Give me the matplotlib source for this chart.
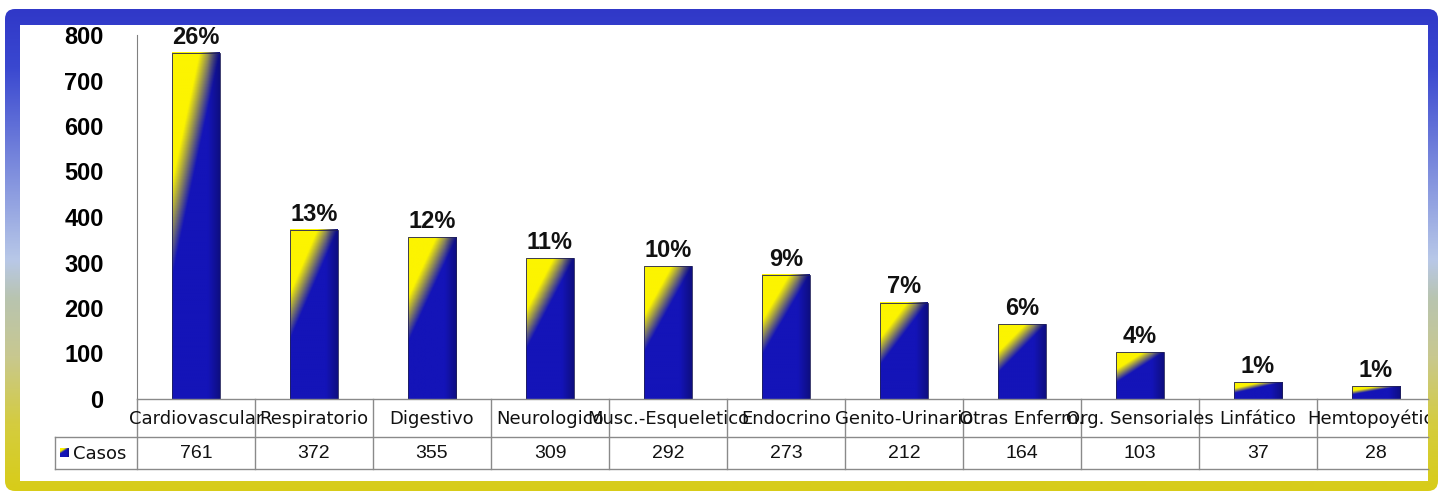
import matplotlib.pyplot as plt
import numpy as np
from matplotlib.colors import LinearSegmentedColormap, to_rgb
from matplotlib.patches import FancyBboxPatch, Rectangle
from matplotlib.transforms import Bbox

categories = ['Cardiovascular', 'Respiratorio', 'Digestivo', 'Neurologico',
              'Musc.-Esqueletico', 'Endocrino', 'Genito-Urinario',
              'Otras Enferm.', 'Org. Sensoriales', 'Linfático', 'Hemtopoyético']
casos = [761, 372, 355, 309, 292, 273, 212, 164, 103, 37, 28]
percent_labels = ['26%', '13%', '12%', '11%', '10%', '9%', '7%', '6%', '4%', '1%', '1%']
y_ticks = [0, 100, 200, 300, 400, 500, 600, 700, 800]
series_name = 'Casos'

W, H = 1438, 493
fig = plt.figure(figsize=(W / 100, H / 100), dpi=100)


def fx(px):
    return px / W


def fy(py):
    return 1 - py / H


# frame: vertical gradient blue -> light -> yellow
bg = fig.add_axes([0, 0, 1, 1], zorder=-10)
bg.set_xlim(0, W)
bg.set_ylim(H, 0)
bg.axis('off')
border_cmap = LinearSegmentedColormap.from_list('border', [
    (0.0, '#3038c8'), (0.12, '#3a48d0'), (0.38, '#8c9ce0'), (0.52, '#b8c8e8'),
    (0.60, '#b8c4b0'), (0.72, '#c8c890'), (0.86, '#d4cc40'), (1.0, '#d8cc18')])
grad = np.linspace(0, 1, 256).reshape(-1, 1)
frame = FancyBboxPatch((5, 9), W - 5, H - 9 - 2, boxstyle='round,pad=0,rounding_size=10',
                       facecolor='none', edgecolor='none')
bg.add_patch(frame)
img = bg.imshow(grad, cmap=border_cmap, extent=[5, W, H - 2, 9], aspect='auto')
img.set_clip_path(frame)
bg.add_patch(Rectangle((20, 25), 1408, 456, facecolor='white', edgecolor='none'))

# main plot area
left_px, right_px, top_px, base_px = 137, 1428, 35, 399
col_w = 118
ax = fig.add_axes([fx(left_px), fy(base_px), fx(right_px - left_px), (base_px - top_px) / H])
ax.patch.set_alpha(0)
for s in ['top', 'right', 'bottom']:
    ax.spines[s].set_visible(False)
ax.spines['left'].set_color('#808080')
ax.set_yticks(y_ticks)
ax.set_yticklabels([str(t) for t in y_ticks], fontsize=17, fontweight='bold',
                   family='Liberation Sans')
ax.tick_params(axis='y', length=0, pad=24)
ax.set_xticks([])

yellow = np.array(to_rgb('#fcf400'))
blue = np.array(to_rgb('#1414b8'))


def bar_gradient(n=120):
    u = np.linspace(0, 1, n)[None, :]
    v = np.linspace(0, 1, n)[:, None]
    s = u / 0.95 + v / 0.62
    t = np.clip((s - 0.6) / 0.45, 0, 1)[..., None]
    rgb = yellow * (1 - t) + blue * t
    shade = 1 - 0.3 * np.clip((u - 0.75) / 0.25, 0, 1)[..., None]
    return np.clip(rgb * shade, 0, 1)


bar_w = 48 / col_w
for i, val in enumerate(casos):
    x0 = i - bar_w / 2
    ax.imshow(bar_gradient(), extent=[x0, x0 + bar_w, 0, val],
              aspect='auto', origin='upper', zorder=2)
    ax.add_patch(Rectangle((x0, 0), bar_w, val, facecolor='none',
                           edgecolor='#20205a', linewidth=0.6, zorder=3))
    ax.annotate(percent_labels[i], (i, val), xytext=(0, 3), textcoords='offset points',
                ha='center', va='bottom', fontsize=17, fontweight='bold',
                family='Liberation Sans', color='#111111')
ax.set_xlim(-0.5, -0.5 + (right_px - left_px) / col_w)
ax.set_ylim(0, 800)

# data table below the axis
row1, row2, row3 = 399, 437, 469
line_kw = dict(color='#8a8a8a', linewidth=1.0)
tab = fig.add_axes([0, 0, 1, 1], zorder=5)
tab.axis('off')
tab.plot([left_px, right_px], [row1, row1], **line_kw)
tab.plot([55, right_px], [row2, row2], **line_kw)
tab.plot([55, right_px], [row3, row3], **line_kw)
tab.plot([55, 55], [row2, row3], **line_kw)
for i in range(len(categories) + 1):
    xb = left_px + i * col_w
    if xb <= right_px:
        tab.plot([xb, xb], [row1, row3], **line_kw)
tab.imshow(bar_gradient(), extent=[60, 69, 457, 448], aspect='auto', zorder=6)
tab.set_xlim(0, W)
tab.set_ylim(H, 0)
clip_box = Bbox.from_extents(0, 0, right_px, H)
for i, (cat, val) in enumerate(zip(categories, casos)):
    xc = left_px + col_w * (i + 0.5)
    t1 = tab.text(xc, (row1 + row2) / 2 + 1, cat, ha='center', va='center',
                  fontsize=13, color='#111111', family='DejaVu Sans', clip_on=True)
    t2 = tab.text(xc, (row2 + row3) / 2 + 1, str(val), ha='center', va='center',
                  fontsize=14, color='#111111', family='Liberation Sans', clip_on=True)
    t1.set_clip_box(clip_box)
    t2.set_clip_box(clip_box)
tab.text(73, (row2 + row3) / 2 + 1, series_name, ha='left', va='center',
         fontsize=13, color='#111111', family='DejaVu Sans')

fig.savefig('out.png', dpi=100)
